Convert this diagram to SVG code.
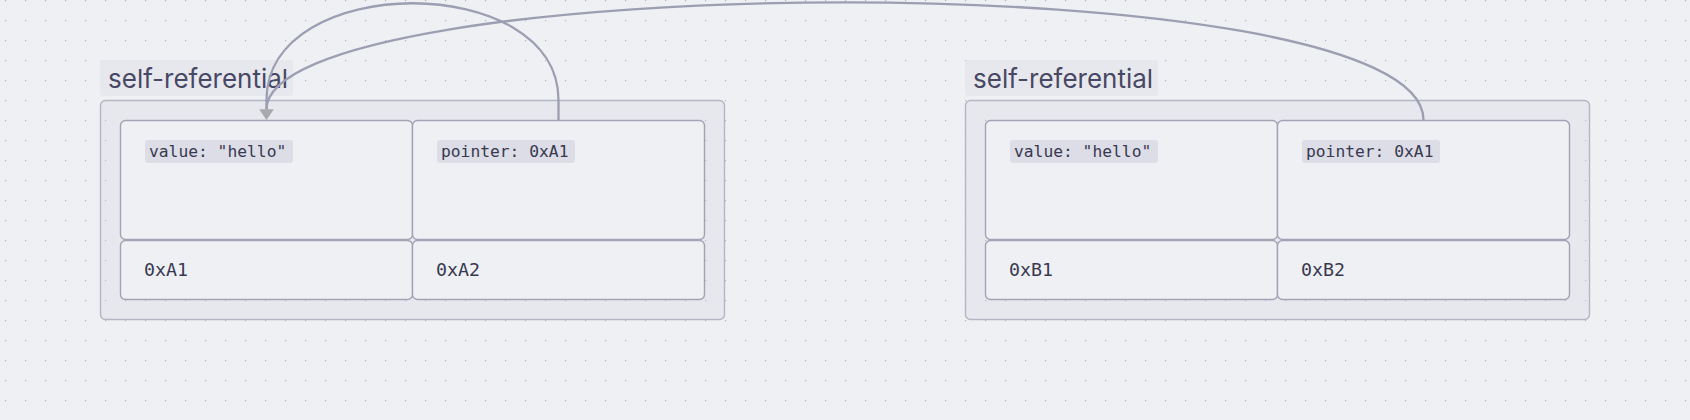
<svg xmlns="http://www.w3.org/2000/svg" width="1690" height="420" viewBox="0 0 1690 420">
<style>
.group-box{fill:#d4d6e0;fill-opacity:0.3;stroke:#b4b6c5;stroke-width:1.4}
.group-label-bg{fill:#e7e8ee}
.group-label{font-family:Inter,"Liberation Sans",sans-serif;font-size:26px;fill:#484864}
.cell{fill:#eff0f4;stroke:#a2a4b6;stroke-width:1.4}
.code-bg{fill:#dcdde6}
.code{font-family:"DejaVu Sans Mono","Liberation Mono",monospace;font-size:16.3px;fill:#383950}
.addr{font-family:"DejaVu Sans Mono","Liberation Mono",monospace;font-size:18.3px;fill:#383950}
.edge{fill:none;stroke:#9c9eb2;stroke-width:2.3}
</style>
<defs>
<pattern id="dots" patternUnits="userSpaceOnUse" width="20" height="20">
<rect x="5" y="0" width="1.2" height="1.2" fill="#b3b4bd"/>
</pattern>
<marker id="arrow" markerUnits="userSpaceOnUse" markerWidth="16" markerHeight="16" viewBox="0 -8 12 16" refX="0" refY="0" orient="auto">
<path d="M0,-7 L10.3,0 L0,7 Z" fill="#a9a9ad"/>
</marker>
</defs>
<rect width="1690" height="420" fill="#eff0f3"/>
<rect width="1690" height="420" fill="url(#dots)"/>

<g id="group-a">
<rect class="group-label-bg" x="100" y="60" width="193" height="36" rx="3"/>
<text class="group-label" x="108" y="88">self-referential</text>
<rect class="group-box" x="100.5" y="100.5" width="624" height="219" rx="5"/>
</g>
<g id="a1-value">
<rect class="cell" x="120.5" y="120.5" width="292" height="119" rx="5"/>
<rect class="code-bg" x="145" y="140" width="148" height="23" rx="3"/>
<text class="code" x="149" y="157">value: "hello"</text>
</g>
<g id="a2-pointer">
<rect class="cell" x="412.5" y="120.5" width="292" height="119" rx="5"/>
<rect class="code-bg" x="437" y="140" width="138" height="23" rx="3"/>
<text class="code" x="441" y="157">pointer: 0xA1</text>
</g>
<g id="a1-addr">
<rect class="cell" x="120.5" y="240.5" width="292" height="59" rx="5"/>
<text class="addr" x="144" y="276">0xA1</text>
</g>
<g id="a2-addr">
<rect class="cell" x="412.5" y="240.5" width="292" height="59" rx="5"/>
<text class="addr" x="436" y="276">0xA2</text>
</g>

<g id="group-b">
<rect class="group-label-bg" x="965" y="60" width="193" height="36" rx="3"/>
<text class="group-label" x="973" y="88">self-referential</text>
<rect class="group-box" x="965.5" y="100.5" width="624" height="219" rx="5"/>
</g>
<g id="b1-value">
<rect class="cell" x="985.5" y="120.5" width="292" height="119" rx="5"/>
<rect class="code-bg" x="1010" y="140" width="148" height="23" rx="3"/>
<text class="code" x="1014" y="157">value: "hello"</text>
</g>
<g id="b2-pointer">
<rect class="cell" x="1277.5" y="120.5" width="292" height="119" rx="5"/>
<rect class="code-bg" x="1302" y="140" width="138" height="23" rx="3"/>
<text class="code" x="1306" y="157">pointer: 0xA1</text>
</g>
<g id="b1-addr">
<rect class="cell" x="985.5" y="240.5" width="292" height="59" rx="5"/>
<text class="addr" x="1009" y="276">0xB1</text>
</g>
<g id="b2-addr">
<rect class="cell" x="1277.5" y="240.5" width="292" height="59" rx="5"/>
<text class="addr" x="1301" y="276">0xB2</text>
</g>

<g id="connectors">
<path class="edge" d="M558.5,120 L558.5,100 C558.5,-29 266.5,-29 266.5,100 L266.5,109.5" marker-end="url(#arrow)"/>
<path class="edge" d="M1423.5,120 C1423.5,-40 266.5,-30 266.5,109.5" marker-end="url(#arrow)"/>
</g>
</svg>
